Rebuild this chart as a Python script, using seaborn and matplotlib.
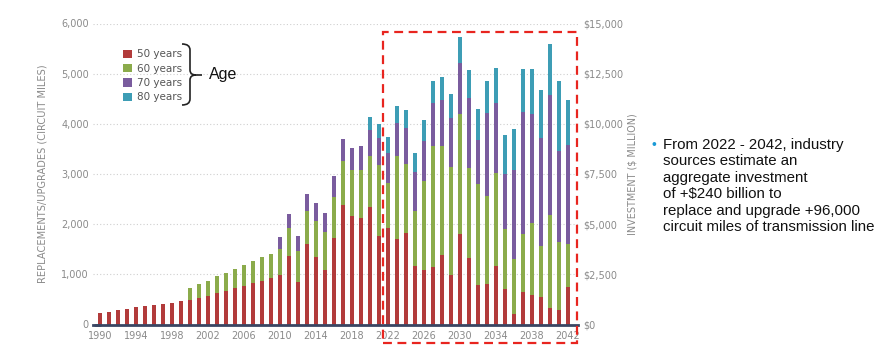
import matplotlib
matplotlib.use("Agg")
import matplotlib.pyplot as plt
import numpy as np
import pandas as pd
import seaborn as sns
from matplotlib.patches import Patch, Rectangle, PathPatch
from matplotlib.path import Path

sns.set_theme(style="white")
plt.rcParams["font.family"] = ["DejaVu Sans"]

years = list(range(1990, 2043))

# circuit miles per age group
age_50 = [233, 253, 287, 313, 340, 360, 380, 407, 433, 460,
          480, 520, 570, 623, 670, 723, 763, 823, 877, 930,
          983, 1370, 850, 1600, 1350, 1090, 1730, 2380, 2157, 2120,
          2350, 1770, 1930, 1703, 1823, 1157, 1077, 1137, 1377, 990,
          1810, 1317, 797, 803, 1157, 710, 203, 650, 597, 543,
          330, 297, 757]
age_60 = [0] * 10 + [245, 280, 305, 340, 365, 385, 420, 440, 460, 485,
                     515, 555, 610, 670, 715, 760, 820, 875, 915, 965,
                     1015, 1405, 895, 1655, 1385, 1115, 1775, 2420, 2180, 2155,
                     2395, 1805, 1995, 1760, 1860, 1185, 1105, 1160, 1420, 1015,
                     1855, 1355, 845]
age_70 = [0] * 20 + [240, 285, 310, 335, 360, 380, 415, 435, 455, 480,
                     505, 545, 600, 655, 715, 760, 815, 860, 920, 965,
                     1015, 1400, 885, 1645, 1395, 1105, 1775, 2425, 2175, 2160,
                     2380, 1815, 1985]
age_80 = [0] * 30 + [260, 285, 320, 335, 360, 380, 415, 440, 455, 480,
                     515, 560, 615, 655, 705, 775, 820, 860, 905, 965,
                     1020, 1395, 880]

age_labels = ["50 years", "60 years", "70 years", "80 years"]
age_colors = ["#b23b3b", "#8bab4b", "#7a5c9e", "#3d9db5"]

left_ticks = [0, 1000, 2000, 3000, 4000, 5000, 6000]
right_ticks = [0, 2500, 5000, 7500, 10000, 12500, 15000]
year_ticks = list(range(1990, 2043, 4))

note_lines = [
    "From 2022 - 2042, industry",
    "sources estimate an",
    "aggregate investment",
    "of +$240 billion to",
    "replace and upgrade +96,000",
    "circuit miles of transmission line",
]

df = pd.DataFrame({"year": years, "a50": age_50, "a60": age_60,
                   "a70": age_70, "a80": age_80})
df["c50"] = df["a50"]
df["c60"] = df["c50"] + df["a60"]
df["c70"] = df["c60"] + df["a70"]
df["c80"] = df["c70"] + df["a80"]

W, H = 890, 355
fig = plt.figure(figsize=(W / 100, H / 100), dpi=100)
ax_l, ax_r, ax_b, ax_t = 93, 578, 324.5, 23.5
ax = fig.add_axes([ax_l / W, 1 - ax_b / H, (ax_r - ax_l) / W, (ax_b - ax_t) / H])

grey = "#8a8a8a"
for y in left_ticks[1:]:
    ax.axhline(y, color="#cfcfcf", lw=0.8, ls=(0, (1, 2)), zorder=0)

# stacked bars drawn as cumulative layers, tallest first
for col, c in zip(["c80", "c70", "c60", "c50"], age_colors[::-1]):
    sns.barplot(data=df, x="year", y=col, color=c, saturation=1,
                width=0.55, linewidth=0, ax=ax, zorder=2)

ax.set_xlim((ax_l - 100) / 9, (ax_r - 100) / 9)
ax.set_ylim(0, 6000)
ax.set_yticks(left_ticks)
ax.set_yticklabels([f"{v:,}" for v in left_ticks])
ax.set_xticks([years.index(y) for y in year_ticks])
ax.set_xticklabels([str(y) for y in year_ticks])
ax.tick_params(axis="both", length=0, labelsize=7, colors=grey)
ax.tick_params(axis="y", pad=3)
ax.tick_params(axis="x", pad=5)
ax.set_xlabel("")
ax.set_ylabel("REPLACEMENTS/UPGRADES (CIRCUIT MILES)", fontsize=7.1,
              color=grey, labelpad=10)
for s in ["left", "right", "top"]:
    ax.spines[s].set_visible(False)
ax.spines["bottom"].set_color("#3a4663")
ax.spines["bottom"].set_linewidth(2)
ax.spines["bottom"].set_zorder(3)
ax.plot([-0.6, 0], [0, 0], color="#3a4663", lw=2, clip_on=False, zorder=3)

ax2 = ax.twinx()
ax2.set_ylim(0, 15000)
ax2.set_yticks(right_ticks)
ax2.set_yticklabels([f"${v:,}" for v in right_ticks])
ax2.tick_params(axis="y", length=0, labelsize=7, colors=grey, pad=4)
ax2.set_ylabel("INVESTMENT ($ MILLION)", fontsize=6.9, color=grey, labelpad=3)
for s in ax2.spines.values():
    s.set_visible(False)

# legend
handles = [Patch(facecolor=c, edgecolor="none") for c in age_colors]
ax.legend(handles, age_labels, loc="upper left",
          bbox_to_anchor=(116 / W, 1 - 42 / H), bbox_transform=fig.transFigure,
          frameon=False, fontsize=7.5, labelcolor="#555555",
          handlelength=0.85, handleheight=0.85, handletextpad=0.5,
          labelspacing=0.42, borderpad=0.2)

# curly bracket and "Age"
def fp(x, y):
    return (x / W, 1 - y / H)

verts = [fp(182, 44), fp(190, 44), fp(190, 50), fp(190, 70), fp(190, 75),
         fp(196, 75), fp(202, 75),
         fp(196, 75), fp(190, 75), fp(190, 80), fp(190, 99), fp(190, 105),
         fp(182, 105)]
codes = [Path.MOVETO, Path.CURVE3, Path.CURVE3, Path.LINETO, Path.CURVE3,
         Path.CURVE3, Path.LINETO,
         Path.MOVETO, Path.CURVE3, Path.CURVE3, Path.LINETO, Path.CURVE3,
         Path.CURVE3]
fig.patches.append(PathPatch(Path(verts, codes), fill=False, lw=1.2,
                             edgecolor="#222222", transform=fig.transFigure))
fig.text(209 / W, 1 - 75 / H, "Age", fontsize=11.5, va="center",
         family=["Liberation Sans", "DejaVu Sans"], color="#111111")

# red dashed box around the forecast period
fig.patches.append(Rectangle((383 / W, 1 - 343 / H), (577 - 383) / W,
                             (343 - 32) / H, fill=False, edgecolor="#e8251f",
                             lw=1.6, ls=(0, (4, 2.5)),
                             transform=fig.transFigure, zorder=5))

# bullet note
fig.text(651 / W, 1 - 145 / H, "\u2022", fontsize=10, va="center",
         color="#1a9ad6", family=["Liberation Sans", "DejaVu Sans"])
fig.text(663 / W, 1 - 138 / H, "\n".join(note_lines), fontsize=10.8, va="top",
         ha="left", color="#111111", linespacing=1.22,
         family=["Liberation Sans", "DejaVu Sans"])

fig.savefig("out.png", dpi=100, facecolor="white")
